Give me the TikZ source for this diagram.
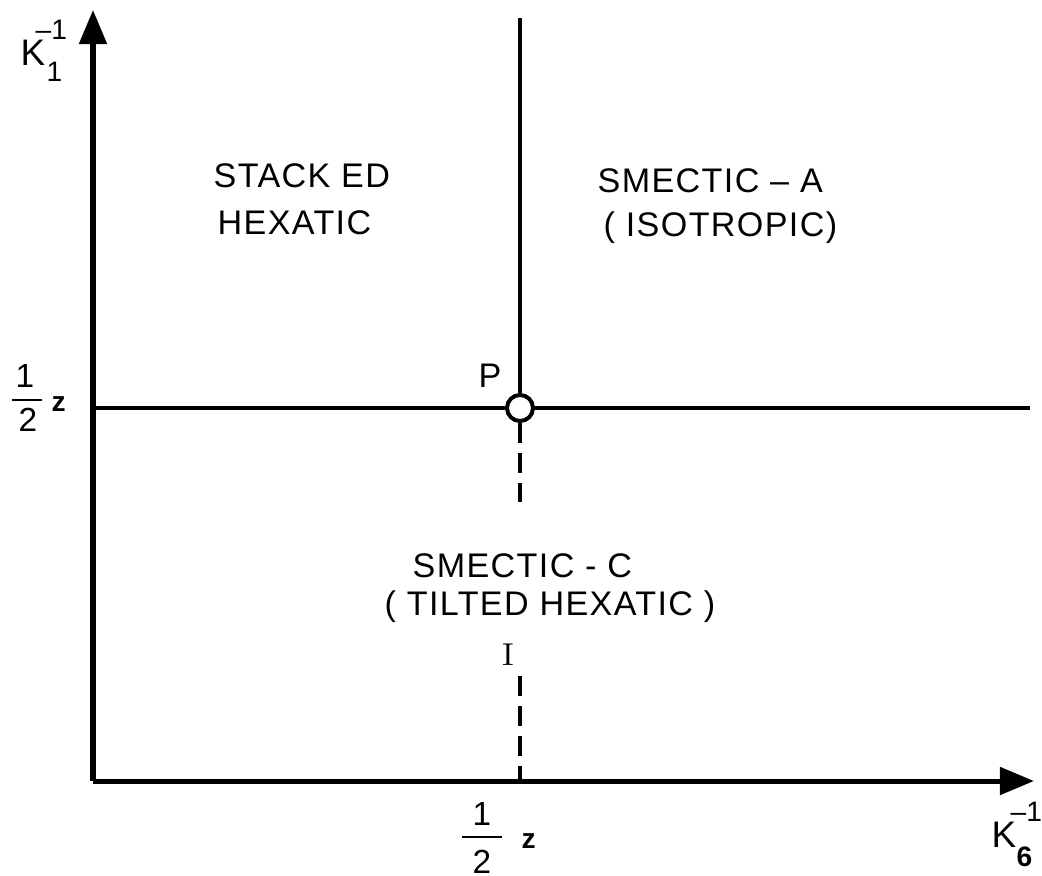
\documentclass[tikz,border=0pt]{standalone}
\usepackage{fontspec}
\usetikzlibrary{arrows.meta, positioning}
\newfontfamily\lblfont[LetterSpace=4]{Liberation Sans}
\newfontfamily\axfont{Liberation Sans}

\begin{document}
\begin{tikzpicture}[x=0.01cm, y=-0.01cm]
        \tikzset{axis/.style = {line width=0.05cm, -{Triangle[length=0.34cm, width=0.27cm]}}}
        \tikzset{boundary/.style = {line width=0.04cm}}
        \tikzset{unstable/.style = {line width=0.04cm, dash pattern=on 0.2cm off 0.1cm}}
        \tikzset{phase/.style = {anchor=base west, inner sep=0pt, font=\lblfont\fontsize{9.7}{11}\selectfont}}
        \tikzset{num/.style = {anchor=base, inner sep=0pt, font=\axfont\fontsize{9.5}{11}\selectfont}}
        \tikzset{small/.style = {anchor=base west, inner sep=0pt, font=\axfont\fontsize{8}{9}\selectfont}}
        \tikzset{zed/.style = {anchor=base west, inner sep=0pt, font=\axfont\bfseries\fontsize{8}{9}\selectfont}}
        \useasboundingbox (0,0) rectangle (1042,876);

        % axes
        \coordinate (O) at (93,781);
        \coordinate (ytip) at (93,10);
        \coordinate (xtip) at (1034,781);
        \draw [axis] (O) -- (ytip);
        \draw [axis] (O) -- (xtip);

        % phase boundaries
        \node (pt) [circle, draw, line width=0.04cm, minimum size=0.26cm, inner sep=0pt, fill=white] at (520,408) {};
        \coordinate (yhalf) at (93,408);
        \coordinate (rend) at (1030,408);
        \coordinate (top) at (520,18);
        \coordinate (dashA) at (520,502);
        \coordinate (dashB) at (520,676);
        \coordinate (xhalf) at (520,781);
        \draw [boundary] (yhalf) -- (pt.west);
        \draw [boundary] (pt.east) -- (rend);
        \draw [boundary] (pt.north) -- (top);
        \draw [unstable] (pt.south) -- (dashA);
        \draw [unstable] (dashB) -- (xhalf);

        % labels
        \node (pP) [phase] at (478,387) {P};
        \node (stk) [phase] at (213,188) {STACK ED};
        \node (hex) [phase] at (217,235) {HEXATIC};
        \node (smA) [phase] at (597,193) {SMECTIC – A};
        \node (iso) [phase] at (603,237) {( ISOTROPIC)};
        \node (smC) [phase] at (412,577) {SMECTIC - C};
        \node (tlt) [phase] at (384,615) {( TILTED HEXATIC )};
        \node (mark) [anchor=base, inner sep=0pt, font=\fontsize{9}{11}\selectfont] at (508,665) {I};

        % axis names
        \node (kone) [phase, font=\axfont\fontsize{10.5}{12}\selectfont] at (20,66) {K};
        \node (koneup) [small] at (35,40) {–1};
        \node (konedn) [small] at (46,82) {1};
        \node (ksix) [phase, font=\axfont\fontsize{10.5}{12}\selectfont] at (991,847) {K};
        \node (ksixup) [small] at (1010,821) {–1};
        \node (ksixdn) [small, font=\axfont\bfseries\fontsize{8}{9}\selectfont] at (1016,866) {6};

        % one half z
        \node (lnum) [num] at (25,387) {1};
        \node (lden) [num] at (28,432) {2};
        \draw [line width=0.025cm] (12,400) -- (42,400);
        \node (lz) [zed] at (51,411) {z};
        \node (bnum) [num] at (482,825) {1};
        \node (bden) [num] at (482,873) {2};
        \draw [line width=0.025cm] (462,837) -- (502,837);
        \node (bz) [zed] at (521,848) {z};
\end{tikzpicture}
\end{document}
